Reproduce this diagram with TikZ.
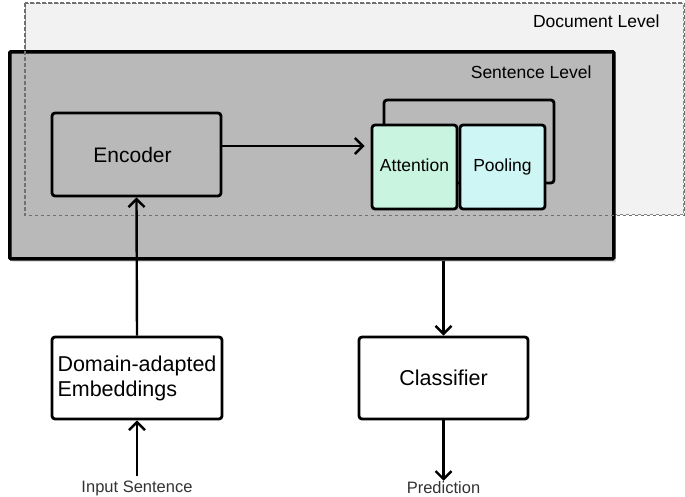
\documentclass[tikz,border=0pt]{standalone}
\usepackage{fontspec}
\setmainfont{Liberation Sans}
\usetikzlibrary{arrows.meta,shadows}

\definecolor{docfill}{HTML}{F2F2F2}
\definecolor{docline}{HTML}{8C8C8C}
\definecolor{sentfill}{HTML}{B9B9B9}
\definecolor{attfill}{HTML}{C9F4E0}
\definecolor{poolfill}{HTML}{CDF6F4}

\begin{document}
\begin{tikzpicture}[x=1pt,y=-1pt,
    blk/.style={draw, line width=2.8pt, rounded corners=3pt, inner sep=0pt},
    arr/.style={-{Straight Barb[length=8pt,width=16pt]}, line width=2.4pt},
    lbl/.style={font=\fontsize{17.5}{20}\selectfont}]
      \useasboundingbox (0,0) rectangle (685,496);
      % document level
      \node (doc)[draw=docline, fill=docfill, dash pattern=on 3.5pt off 2.5pt, line width=1.2pt,
            minimum width=658pt, minimum height=211pt, anchor=north west] at (25,3){};
      \node (doclbl)[lbl, anchor=east] at (663,21){Document Level};
      % sentence level
      \node (sent)[draw, fill=sentfill, line width=3.5pt, rounded corners=1pt,
            minimum width=604pt, minimum height=207pt, anchor=north west,
            drop shadow={opacity=0.25, shadow xshift=2pt, shadow yshift=-3pt}] at (8,50){};
      \draw [docline!80!black, dash pattern=on 3.5pt off 2.5pt, line width=1.2pt]
            (doc.north west) rectangle (doc.south east);
      \node (sentlbl)[lbl, anchor=east] at (595,72){Sentence Level};
      % blocks
      \node (enc)[blk, fill=sentfill, minimum width=169pt, minimum height=83pt,
            font=\fontsize{21}{24}\selectfont] at (136.5,154.5){\hspace*{-8pt}Encoder};
      \node (stack)[blk, fill=sentfill, minimum width=170pt, minimum height=83pt] at (469,141.5){};
      \node (att)[blk, fill=attfill, minimum width=85pt, minimum height=84pt,
            font=\fontsize{17.5}{20}\selectfont] at (414.5,167){\raisebox{4pt}{Attention}};
      \node (pool)[blk, fill=poolfill, minimum width=85pt, minimum height=84pt,
            font=\fontsize{17.5}{20}\selectfont] at (502.5,167){\raisebox{4pt}{Pooling}};
      \node (dom)[blk, fill=white, minimum width=170pt, minimum height=82pt, align=left,
            font=\fontsize{21.5}{25}\selectfont] at (137,378){Domain-adapted\\Embeddings};
      \node (cls)[blk, fill=white, minimum width=169pt, minimum height=82pt,
            font=\fontsize{21.5}{24}\selectfont] at (443.5,378){Classifier};
      \node (inp)[font=\fontsize{16.5}{20}\selectfont, text=black!80, inner sep=1pt] at (137,488){Input Sentence};
      \node (pred)[font=\fontsize{16.5}{20}\selectfont, text=black!80, inner sep=1pt] at (443.5,488){Prediction};
      % arrows
      \draw [arr, shorten >=6pt] ([yshift=8.5pt]enc.east) -- ([yshift=8.5pt]enc.east -| att.west);
      \draw [arr, shorten <=3pt] (inp.north) -- (dom.south);
      \draw [arr] (dom.north) -- (enc.south);
      \draw [arr] (sent.south -| cls.north) -- (cls.north);
      \draw [arr] (cls.south) -- (pred.north);
    \end{tikzpicture}
\end{document}
